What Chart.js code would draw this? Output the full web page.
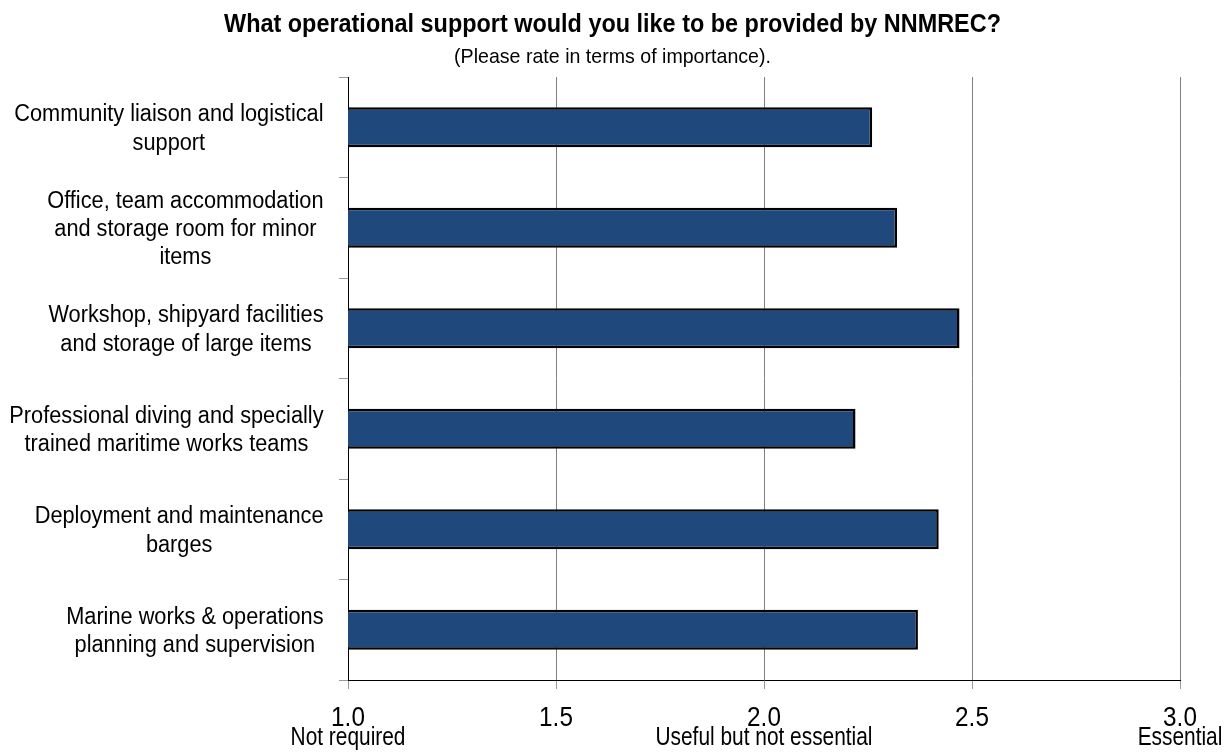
<!DOCTYPE html>
<html>
<head>
<meta charset="utf-8">
<script src="https://cdn.jsdelivr.net/npm/chart.js@4/dist/chart.umd.min.js"></script>
<style>
  html, body { margin: 0; padding: 0; background: #fff; }
  #wrap { width: 1225px; height: 752px; position: relative; }
</style>
</head>
<body>
<div id="wrap"><canvas id="supportChart"></canvas></div>
<script>
// Operational support ratings, one bar per service.
const categories = [
  ["Community liaison and logistical", "support"],
  ["Office, team accommodation", "and storage room for minor", "items"],
  ["Workshop, shipyard facilities", "and storage of large items"],
  ["Professional diving and specially", "trained maritime works teams"],
  ["Deployment and maintenance", "barges"],
  ["Marine works & operations", "planning and supervision"],
];
const ratings = [2.26, 2.32, 2.47, 2.22, 2.42, 2.37];

const tickValues = [1, 1.5, 2, 2.5, 3];
const tickNumbers = ["1.0", "1.5", "2.0", "2.5", "3.0"];
const tickWords = ["Not required", "", "Useful but not essential", "", "Essential"];

const titleText = "What operational support would you like to be provided by NNMREC?";
const subtitleText = "(Please rate in terms of importance).";

const SANS = '"Liberation Sans", Arial, sans-serif';
const BAR = "#1f497d";
const GRID = "#808080";
const TICK = "#9a9a9a";

// text drawn a little condensed, like the narrow office fonts
function squeezed(ctx, text, x, y, font, sx, align) {
  ctx.save();
  ctx.font = font;
  ctx.textAlign = align;
  ctx.textBaseline = "alphabetic";
  ctx.fillStyle = "#000";
  ctx.translate(x, y);
  ctx.scale(sx, 1);
  ctx.fillText(text, 0, 0);
  ctx.restore();
}

const textLayer = {
  id: "textLayer",
  afterDraw(chart) {
    const ctx = chart.ctx;
    const { x, y } = chart.scales;
    const mid = chart.width / 2;

    squeezed(ctx, titleText, mid, 31.5, "bold 25px " + SANS, 0.937, "center");
    squeezed(ctx, subtitleText, mid, 63, "21px " + SANS, 0.933, "center");

    // category labels: lines centred on each other, block right-aligned near the axis
    const catFont = "23px " + SANS;
    const sx = 0.945;
    const lh = 28.4;
    ctx.save();
    ctx.font = catFont;
    categories.forEach((lines, i) => {
      const w = Math.max(...lines.map((s) => ctx.measureText(s).width)) * sx;
      const cx = 323.5 - w / 2;
      const cy = y.getPixelForValue(i);
      lines.forEach((s, k) => {
        squeezed(ctx, s, cx, cy + (k - (lines.length - 1) / 2) * lh + 8.2, catFont, sx, "center");
      });
    });
    ctx.restore();

    // value axis: number with its meaning underneath
    tickValues.forEach((v, i) => {
      const px = x.getPixelForValue(v);
      squeezed(ctx, tickNumbers[i], px, 725.5, "27px " + SANS, 0.9, "center");
      if (tickWords[i]) squeezed(ctx, tickWords[i], px, 745, "25px " + SANS, 0.835, "center");
    });
  },
};

new Chart(document.getElementById("supportChart"), {
  type: "bar",
  data: {
    labels: categories.map((l) => l.join(" ")),
    datasets: [
      {
        data: ratings,
        backgroundColor: BAR,
        borderColor: "#000",
        borderWidth: 2.5,
        borderSkipped: false,
        barPercentage: 0.4,
        categoryPercentage: 1,
      },
    ],
  },
  options: {
    indexAxis: "y",
    responsive: true,
    maintainAspectRatio: false,
    animation: false,
    layout: { padding: { top: 77, right: 45 } },
    plugins: {
      legend: { display: false },
      tooltip: { enabled: false },
    },
    scales: {
      x: {
        type: "linear",
        min: 1,
        max: 3,
        afterFit: (s) => { s.height = 72; },
        border: { color: "#000", width: 1 },
        grid: { color: GRID, tickColor: TICK, tickLength: 9 },
        ticks: { stepSize: 0.5, display: false },
      },
      y: {
        afterFit: (s) => { s.width = 348; },
        border: { color: "#000", width: 1 },
        grid: { drawOnChartArea: false, tickColor: TICK, tickLength: 9, offset: true },
        ticks: { display: false },
      },
    },
  },
  plugins: [textLayer],
});
</script>
</body>
</html>
